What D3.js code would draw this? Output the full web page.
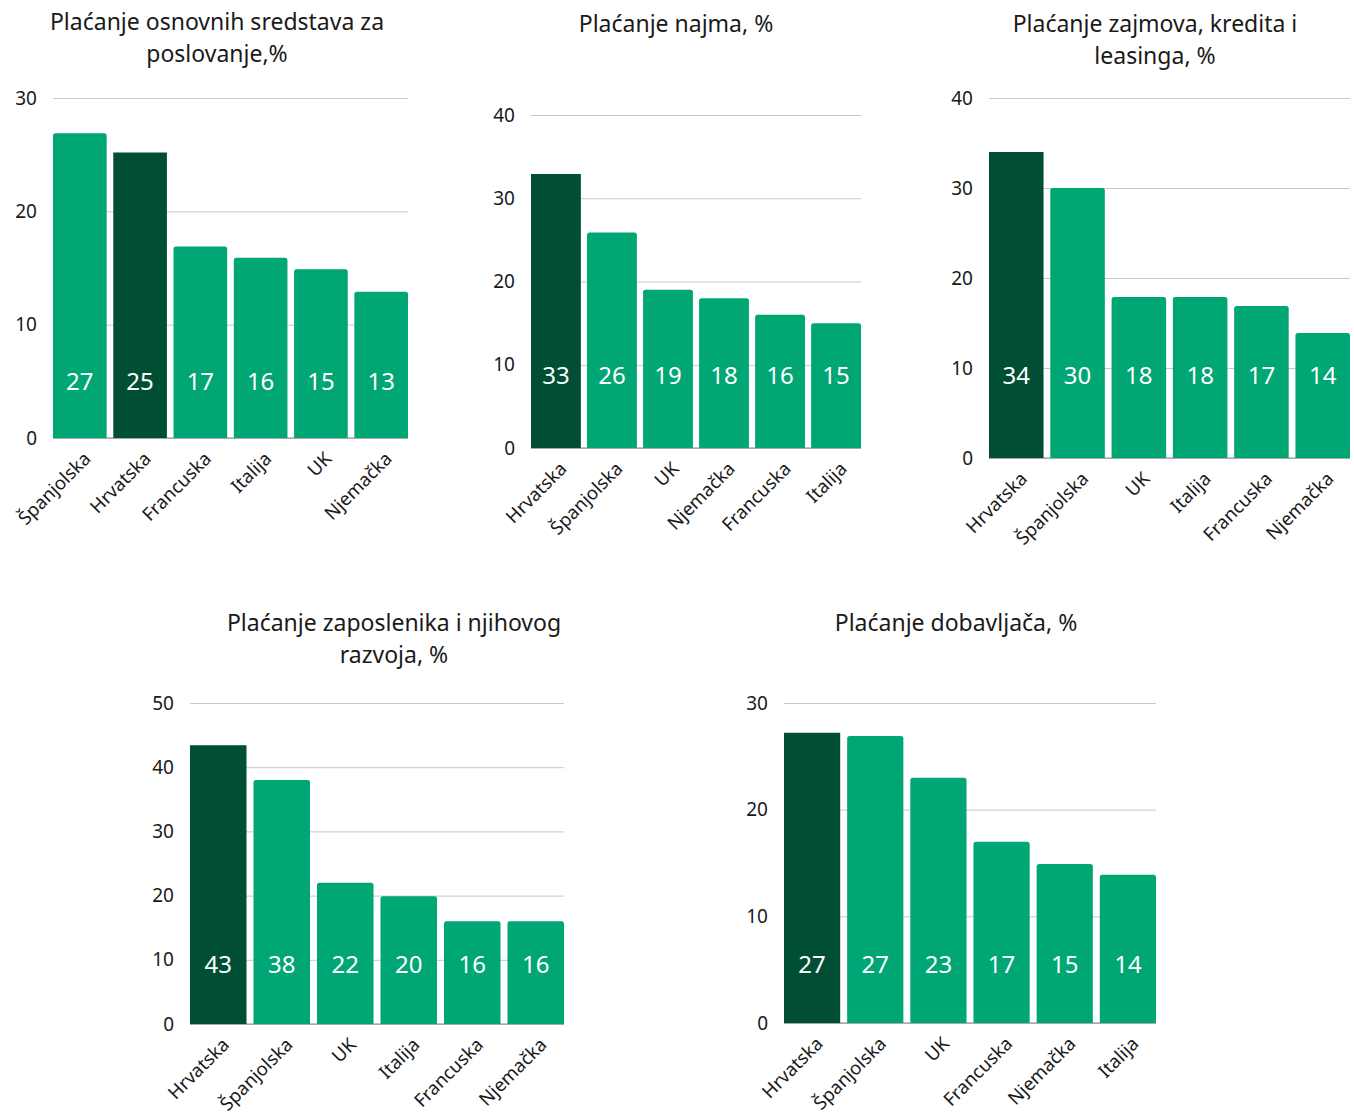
<!DOCTYPE html>
<html>
<head>
<meta charset="utf-8">
<script src="https://cdn.jsdelivr.net/npm/d3@7"></script>
<style>
  html, body { margin: 0; padding: 0; background: #fff; }
  svg { display: block; font-family: "Noto Sans", Lato, sans-serif; }
</style>
</head>
<body>
<svg id="chart" width="1354" height="1117"></svg>
<script>
// ---- Data ----
const highlight = "Hrvatska";

const title1 = ["Plaćanje osnovnih sredstava za", "poslovanje,%"];
const cats1 = ["Španjolska", "Hrvatska", "Francuska", "Italija", "UK", "Njemačka"];
const vals1 = [26.9, 25.2, 16.9, 15.9, 14.9, 12.9];
const ticks1 = [0, 10, 20, 30];

const title2 = ["Plaćanje najma, %"];
const cats2 = ["Hrvatska", "Španjolska", "UK", "Njemačka", "Francuska", "Italija"];
const vals2 = [32.9, 25.9, 19, 18, 16, 15];
const ticks2 = [0, 10, 20, 30, 40];

const title3 = ["Plaćanje zajmova, kredita i", "leasinga, %"];
const cats3 = ["Hrvatska", "Španjolska", "UK", "Italija", "Francuska", "Njemačka"];
const vals3 = [34, 30, 17.9, 17.9, 16.9, 13.9];
const ticks3 = [0, 10, 20, 30, 40];

const title4 = ["Plaćanje zaposlenika i njihovog", "razvoja, %"];
const cats4 = ["Hrvatska", "Španjolska", "UK", "Italija", "Francuska", "Njemačka"];
const vals4 = [43.4, 38, 22, 19.9, 16, 16];
const ticks4 = [0, 10, 20, 30, 40, 50];

const title5 = ["Plaćanje dobavljača, %"];
const cats5 = ["Hrvatska", "Španjolska", "UK", "Francuska", "Njemačka", "Italija"];
const vals5 = [27.2, 26.9, 23, 17, 14.9, 13.9];
const ticks5 = [0, 10, 20, 30];

// ---- Layout (positions only) ----
const charts = [
  { title: title1, cats: cats1, vals: vals1, ticks: ticks1, x0: 53,  x1: 408,  yTop: 98,  yBase: 438,  labelY: 382, tx: 217,  ty: 22 },
  { title: title2, cats: cats2, vals: vals2, ticks: ticks2, x0: 531, x1: 861,  yTop: 115, yBase: 448,  labelY: 376, tx: 676,  ty: 24 },
  { title: title3, cats: cats3, vals: vals3, ticks: ticks3, x0: 989, x1: 1350, yTop: 98,  yBase: 458,  labelY: 376, tx: 1155, ty: 24 },
  { title: title4, cats: cats4, vals: vals4, ticks: ticks4, x0: 190, x1: 564,  yTop: 703, yBase: 1024, labelY: 965, tx: 394,  ty: 623 },
  { title: title5, cats: cats5, vals: vals5, ticks: ticks5, x0: 784, x1: 1156, yTop: 703, yBase: 1023, labelY: 965, tx: 956,  ty: 623 }
];

const FONT = "'Noto Sans', Lato, sans-serif";
const LIGHT = "#00a673";
const DARK = "#004f35";
const fmt = d3.format(".0f");
const svg = d3.select("#chart");

function topRoundedPath(x, y, w, h, r) {
  r = Math.min(r, w / 2, h);
  return `M${x},${y + h}V${y + r}Q${x},${y} ${x + r},${y}H${x + w - r}Q${x + w},${y} ${x + w},${y + r}V${y + h}Z`;
}

charts.forEach(c => {
  const g = svg.append("g");
  const maxT = d3.max(c.ticks);
  const y = d3.scaleLinear().domain([0, maxT]).range([c.yBase, c.yTop]);
  const x = d3.scaleBand().domain(c.cats).range([c.x0, c.x1]).paddingInner(0.11).paddingOuter(0);
  const data = c.cats.map((k, i) => ({ k, v: c.vals[i] }));

  // title
  g.append("text")
    .attr("x", c.tx).attr("y", c.ty)
    .attr("text-anchor", "middle")
    .attr("font-size", 23).attr("fill", "#1a1a1a")
    .selectAll("tspan").data(c.title).join("tspan")
    .attr("x", c.tx)
    .attr("dy", (d, i) => i === 0 ? "0.35em" : 32)
    .text(d => d);

  // gridlines + y labels
  const yAxis = d3.axisLeft(y).tickValues(c.ticks).tickSize(-(c.x1 - c.x0)).tickPadding(16).tickFormat(d3.format("d"));
  const ya = g.append("g").attr("transform", `translate(${c.x0},0)`).call(yAxis);
  ya.select(".domain").remove();
  ya.selectAll(".tick line").attr("stroke", "#c8c8c8").attr("stroke-width", 1);
  ya.selectAll(".tick text").attr("font-size", 19).attr("fill", "#1a1a1a")
    .attr("font-family", FONT).attr("x", -16);

  // baseline
  g.append("line")
    .attr("x1", c.x0).attr("x2", c.x1)
    .attr("y1", y(0)).attr("y2", y(0))
    .attr("stroke", "#8a8a8a").attr("stroke-width", 1);

  // bars
  g.selectAll("path.bar").data(data).join("path")
    .attr("class", "bar")
    .attr("d", d => topRoundedPath(x(d.k), y(d.v), x.bandwidth(), y(0) - y(d.v), d.k === highlight ? 0 : 2.5))
    .attr("fill", d => d.k === highlight ? DARK : LIGHT);

  // value labels
  g.selectAll("text.val").data(data).join("text")
    .attr("class", "val")
    .attr("x", d => x(d.k) + x.bandwidth() / 2)
    .attr("y", c.labelY)
    .attr("dy", "0.35em")
    .attr("text-anchor", "middle")
    .attr("font-size", 24).attr("fill", "#ffffff")
    .text(d => fmt(d.v));

  // category labels
  const xAxis = d3.axisBottom(x).tickSize(0).tickPadding(0);
  const xa = g.append("g").attr("transform", `translate(0,${c.yBase})`).call(xAxis);
  xa.select(".domain").remove();
  xa.selectAll(".tick text")
    .attr("font-size", 18.5).attr("fill", "#1a1a1a")
    .attr("font-family", FONT)
    .attr("text-anchor", "end")
    .attr("dy", 0)
    .attr("y", 0)
    .attr("transform", "translate(12,22) rotate(-45)");
});
</script>
</body>
</html>
